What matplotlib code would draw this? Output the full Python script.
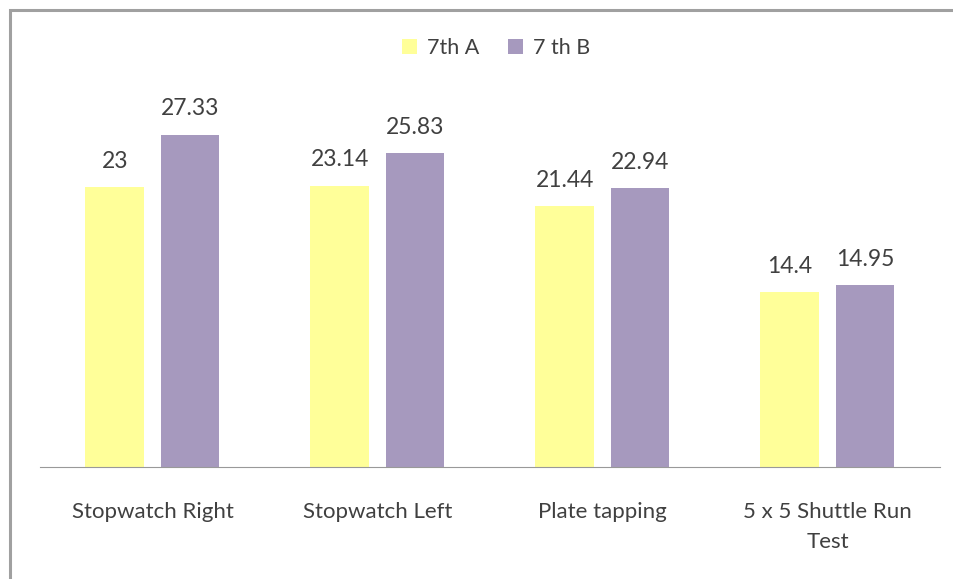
import numpy as np
import matplotlib
matplotlib.use('Agg')
import matplotlib.pyplot as plt
from matplotlib.lines import Line2D

categories = ['Stopwatch Right', 'Stopwatch Left', 'Plate tapping', '5 x 5 Shuttle Run\nTest']
class_a = [23, 23.14, 21.44, 14.4]
class_b = [27.33, 25.83, 22.94, 14.95]
series_names = ['7th A', '7 th B']

plt.rcParams['font.family'] = ['Lato', 'DejaVu Sans']

fig = plt.figure(figsize=(9.54, 5.79), dpi=100)
ax = fig.add_axes([0.0419, 0.1934, 0.9434, 0.63])

# outer chart frame (only left and top edges show, rest is cropped)
fx, fy = 10 / 954, 1 - 10 / 579
fig.lines.append(Line2D([fx, fx, 1.0], [0.0, fy, fy], transform=fig.transFigure,
                        color='#A0A0A0', linewidth=2.2, solid_joinstyle='miter'))

x = np.arange(len(categories))
w = 0.262
off = 0.1667
bars_a = ax.bar(x - off, class_a, w, color='#FFFF99', label=series_names[0])
bars_b = ax.bar(x + off, class_b, w, color='#A699BE', label=series_names[1])

for bars, vals in [(bars_a, class_a), (bars_b, class_b)]:
    for b, v in zip(bars, vals):
        ax.annotate(f'{v:g}', (b.get_x() + b.get_width() / 2, v), xytext=(0, 11),
                    textcoords='offset points', ha='center', va='bottom',
                    fontsize=16.5, color='#404040')

ax.set_xlim(-0.5, 3.5)
ax.set_ylim(0, 30)
ax.set_xticks(x)
ax.set_xticklabels(categories, fontsize=16, color='#404040', linespacing=1.65)
ax.tick_params(axis='x', length=0, pad=25)
ax.set_yticks([])
for s in ['top', 'right', 'left']:
    ax.spines[s].set_visible(False)
ax.spines['bottom'].set_color('#999999')

ax.legend(loc='center', frameon=False, ncol=2,
          fontsize=15.5, handlelength=0.7, handleheight=0.7, columnspacing=1.3, handletextpad=0.5,
          labelcolor='#404040')
leg = ax.get_legend()
leg.set_bbox_to_anchor((0.52, 0.917), transform=fig.transFigure)

fig.savefig('out.png', dpi=100)
